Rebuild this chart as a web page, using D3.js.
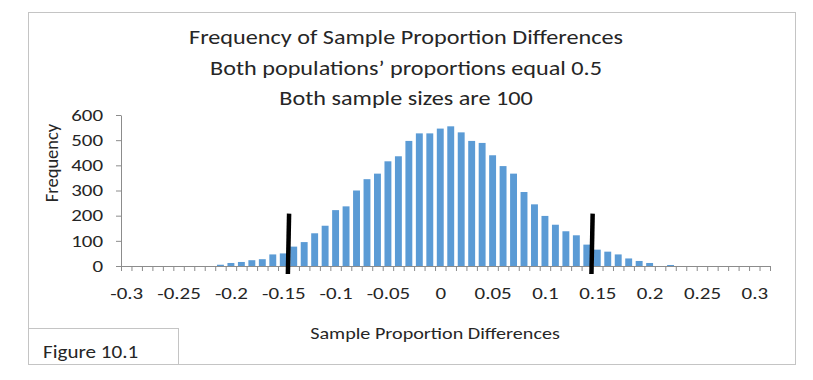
<!DOCTYPE html>
<html>
<head>
<meta charset="utf-8">
<script src="https://cdn.jsdelivr.net/npm/d3@7"></script>
<style>
  body { margin: 0; background: #fff; }
  text { font-family: Carlito, Lato, sans-serif; fill: #262626; }
</style>
</head>
<body>
<script>
// bin centres -0.30 .. 0.31 and their counts
var bins = d3.range(-30, 32).map(function(i){ return i / 100 })
var counts = [0, 0, 0, 0, 0, 0, 0, 0, 0, 5,
              12, 16, 23, 27, 46, 50, 77, 95, 130, 160,
              222, 237, 300, 345, 367, 416, 436, 497, 527, 527,
              546, 555, 531, 497, 489, 440, 397, 367, 294, 245,
              199, 164, 138, 122, 85, 65, 57, 46, 30, 20,
              12, 0, 4, 0, 0, 0, 0, 0, 0, 0,
              0, 0]
var xLabels = [-0.3, -0.25, -0.2, -0.15, -0.1, -0.05, 0, 0.05, 0.1, 0.15, 0.2, 0.25, 0.3]
var yTicks = [0, 100, 200, 300, 400, 500, 600]
var titleLines = ["Frequency of Sample Proportion Differences",
                  "Both populations\u2019 proportions equal 0.5",
                  "Both sample sizes are 100"]
// the two hand drawn marks
var markX = [-0.145, 0.145]
var markTop = 208, markBottom = -32

var W = 813, H = 380
var svg = d3.select("body").append("svg").attr("width", W).attr("height", H)

// widen text a bit, the original font is drawn wider than it is tall
function widen(sel, f){
    sel.each(function(){
        var len = this.getComputedTextLength()
        d3.select(this).attr("textLength", len * f).attr("lengthAdjust", "spacingAndGlyphs")
    })
}

// outer frame
svg.append("rect").attr("x", 28.5).attr("y", 12.5).attr("width", 767).attr("height", 352)
    .attr("fill", "#fff").attr("stroke", "#c4c4c4")

var x = d3.scaleLinear().domain([-0.305, 0.315]).range([121, 770])
var y = d3.scaleLinear().domain([0, 600]).range([266, 115])
var step = x(0.01) - x(0)
var bw = step * 0.66

// bars
svg.selectAll("rect.bar").data(counts).enter().append("rect")
    .attr("class", "bar")
    .attr("x", function(d, i){ return x(bins[i]) - bw / 2 })
    .attr("y", function(d){ return y(d) })
    .attr("width", bw)
    .attr("height", function(d){ return y(0) - y(d) })
    .attr("fill", "#5b9bd5")

// x axis: tick marks on bin edges
var edges = bins.map(function(b){ return b - 0.005 }).concat([0.315])
var gx = svg.append("g").attr("transform", "translate(0," + y(0) + ")")
gx.call(d3.axisBottom(x).tickValues(edges).tickFormat("").tickSize(5).tickSizeOuter(0))
gx.selectAll("line").attr("stroke", "#8c8c8c")
gx.select(".domain").attr("stroke", "#8c8c8c")

var gxl = svg.append("g").attr("transform", "translate(0," + y(0) + ")")
gxl.call(d3.axisBottom(x).tickValues(xLabels).tickFormat(function(d){ return String(+d.toFixed(2)) })
    .tickSize(0).tickPadding(21))
gxl.select(".domain").remove()
gxl.selectAll("text").style("font-size", "16.5px").attr("fill", "#262626")
widen(gxl.selectAll("text"), 1.27)

// y axis
var gy = svg.append("g").attr("transform", "translate(121,0)")
gy.call(d3.axisLeft(y).tickValues(yTicks).tickSize(5).tickSizeOuter(0).tickPadding(13))
gy.selectAll("line").attr("stroke", "#8c8c8c")
gy.select(".domain").attr("stroke", "#8c8c8c")
gy.selectAll("text").style("font-size", "16.5px").attr("fill", "#262626")
widen(gy.selectAll("text"), 1.27)

// hand drawn marks
svg.selectAll("line.mark").data(markX).enter().append("line")
    .attr("class", "mark")
    .attr("x1", function(d){ return x(d) + 0.6 }).attr("y1", y(markTop))
    .attr("x2", function(d){ return x(d) - 0.6 }).attr("y2", y(markBottom))
    .attr("stroke", "#000").attr("stroke-width", 4.5)

// titles
var tt = svg.selectAll("text.title").data(titleLines).enter().append("text")
    .attr("class", "title")
    .attr("x", 406).attr("y", function(d, i){ return 44 + i * 30.5 })
    .attr("text-anchor", "middle").style("font-size", "20px")
    .text(function(d){ return d })
widen(tt, 1.21)

var xt = svg.append("text").attr("x", 435).attr("y", 339).attr("text-anchor", "middle")
    .style("font-size", "16.5px").text("Sample Proportion Differences")
widen(xt, 1.22)

svg.append("text").attr("transform", "translate(58,163) rotate(-90)")
    .attr("text-anchor", "middle").style("font-size", "18.5px").text("Frequency")

// figure label box
svg.append("rect").attr("x", 28.5).attr("y", 328.5).attr("width", 150).attr("height", 36)
    .attr("fill", "#fff").attr("stroke", "#c4c4c4")
var ft = svg.append("text").attr("x", 43).attr("y", 358).style("font-size", "18.5px").text("Figure 10.1")
widen(ft, 1.14)
</script>
</body>
</html>
